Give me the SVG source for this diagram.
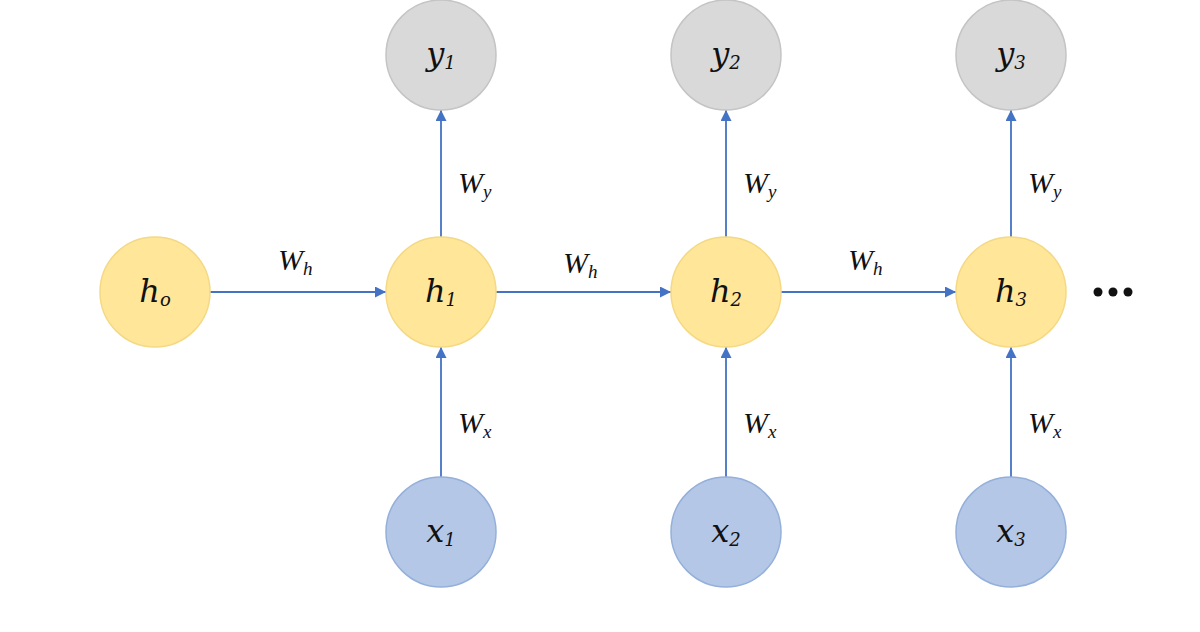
<svg xmlns="http://www.w3.org/2000/svg" width="1200" height="632" viewBox="0 0 1200 632">
<defs>
<marker id="ah" viewBox="0 0 10 10" refX="10" refY="5" markerWidth="11" markerHeight="11" markerUnits="userSpaceOnUse" orient="auto">
<path d="M0,0 L10,5 L0,10 z" fill="#4472C4"/>
</marker>
<style>
.h{fill:#FFE699;stroke:#F4D985;stroke-width:1.5}
.y{fill:#D9D9D9;stroke:#C4C4C4;stroke-width:1.5}
.x{fill:#B4C7E7;stroke:#94B0DA;stroke-width:1.5}
.lbl{font-family:"DejaVu Serif","Liberation Serif",serif;font-style:italic;font-size:32px;fill:#111;text-anchor:middle}
.sub{font-size:18px}
.w{font-family:"Liberation Serif","DejaVu Serif",serif;font-style:italic;font-size:30px;fill:#111}
.ws{font-size:19px}
.c{stroke:#4472C4;stroke-width:1.8;fill:none;marker-end:url(#ah)}
</style>
</defs>
<rect width="1200" height="632" fill="#fff"/>
<g id="connectors">
<line class="c" x1="210" y1="292" x2="386" y2="292"/>
<line class="c" x1="496" y1="292" x2="671" y2="292"/>
<line class="c" x1="781" y1="292" x2="956" y2="292"/>
<line class="c" x1="441" y1="237" x2="441" y2="110"/>
<line class="c" x1="726" y1="237" x2="726" y2="110"/>
<line class="c" x1="1011" y1="237" x2="1011" y2="110"/>
<line class="c" x1="441" y1="477" x2="441" y2="347"/>
<line class="c" x1="726" y1="477" x2="726" y2="347"/>
<line class="c" x1="1011" y1="477" x2="1011" y2="347"/>
<text class="w" x="278" y="270">W<tspan class="ws" dy="5">h</tspan></text>
<text class="w" x="563" y="273">W<tspan class="ws" dy="5">h</tspan></text>
<text class="w" x="848" y="270">W<tspan class="ws" dy="5">h</tspan></text>
<text class="w" x="458" y="193">W<tspan class="ws" dy="5">y</tspan></text>
<text class="w" x="743" y="193">W<tspan class="ws" dy="5">y</tspan></text>
<text class="w" x="1028" y="193">W<tspan class="ws" dy="5">y</tspan></text>
<text class="w" x="458" y="433">W<tspan class="ws" dy="5">x</tspan></text>
<text class="w" x="743" y="433">W<tspan class="ws" dy="5">x</tspan></text>
<text class="w" x="1028" y="433">W<tspan class="ws" dy="5">x</tspan></text>
</g>
<g id="h0"><circle class="h" cx="155" cy="292" r="55"/><text class="lbl" x="155" y="302">h<tspan class="sub" dy="4">o</tspan></text></g>
<g id="h1"><circle class="h" cx="441" cy="292" r="55"/><text class="lbl" x="441" y="302">h<tspan class="sub" dy="4">1</tspan></text></g>
<g id="h2"><circle class="h" cx="726" cy="292" r="55"/><text class="lbl" x="726" y="302">h<tspan class="sub" dy="4">2</tspan></text></g>
<g id="h3"><circle class="h" cx="1011" cy="292" r="55"/><text class="lbl" x="1011" y="302">h<tspan class="sub" dy="4">3</tspan></text></g>
<g id="y1"><circle class="y" cx="441" cy="55" r="55"/><text class="lbl" x="441" y="65">y<tspan class="sub" dy="4">1</tspan></text></g>
<g id="y2"><circle class="y" cx="726" cy="55" r="55"/><text class="lbl" x="726" y="65">y<tspan class="sub" dy="4">2</tspan></text></g>
<g id="y3"><circle class="y" cx="1011" cy="55" r="55"/><text class="lbl" x="1011" y="65">y<tspan class="sub" dy="4">3</tspan></text></g>
<g id="x1"><circle class="x" cx="441" cy="532" r="55"/><text class="lbl" x="441" y="542">x<tspan class="sub" dy="4">1</tspan></text></g>
<g id="x2"><circle class="x" cx="726" cy="532" r="55"/><text class="lbl" x="726" y="542">x<tspan class="sub" dy="4">2</tspan></text></g>
<g id="x3"><circle class="x" cx="1011" cy="532" r="55"/><text class="lbl" x="1011" y="542">x<tspan class="sub" dy="4">3</tspan></text></g>
<g id="ellipsis" fill="#111"><circle cx="1098" cy="292" r="4.5"/><circle cx="1113" cy="292" r="4.5"/><circle cx="1128" cy="292" r="4.5"/></g>
</svg>
